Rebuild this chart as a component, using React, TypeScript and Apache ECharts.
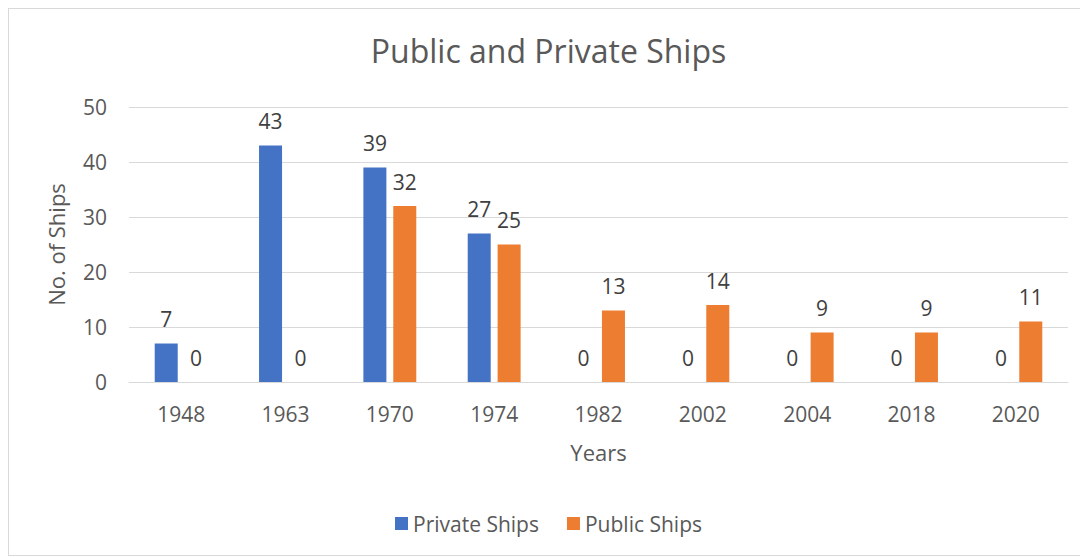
import React, { useEffect, useRef } from "react";
import * as echarts from "echarts";

const years = ["1948", "1963", "1970", "1974", "1982", "2002", "2004", "2018", "2020"];
const privateShips = [7, 43, 39, 27, 0, 0, 0, 0, 0];
const publicShips = [0, 0, 32, 25, 13, 14, 9, 9, 11];

const FONT = "'Open Sans', 'Noto Sans', sans-serif";

export default function App() {
  const ref = useRef<HTMLDivElement>(null);
  useEffect(() => {
    if (!ref.current) return;
    const chart = echarts.init(ref.current, undefined, { renderer: "svg" });
    const label = {
      show: true,
      position: "top",
      distance: 14,
      color: "#404040",
      fontSize: 21,
      fontFamily: FONT,
    };
    chart.setOption({
      animation: false,
      backgroundColor: "#ffffff",
      textStyle: { fontFamily: FONT },
      title: {
        text: "Public and Private Ships",
        left: "center",
        top: 20,
        textStyle: { color: "#595959", fontSize: 32, fontWeight: "normal", fontFamily: FONT },
      },
      legend: {
        bottom: 16,
        left: "center",
        itemWidth: 13,
        itemHeight: 13,
        itemGap: 28,
        icon: "rect",
        textStyle: { color: "#595959", fontSize: 21, fontFamily: FONT },
        data: ["Private Ships", "Public Ships"],
      },
      grid: { left: 120, right: 20, top: 98, bottom: 173, containLabel: false },
      xAxis: {
        type: "category",
        data: years,
        name: "Years",
        nameLocation: "middle",
        nameGap: 59,
        nameTextStyle: { color: "#595959", fontSize: 22, fontFamily: FONT },
        axisLine: { show: true, lineStyle: { color: "#d9d9d9", width: 1 } },
        axisTick: { show: false },
        axisLabel: { color: "#595959", fontSize: 21, margin: 21, fontFamily: FONT },
      },
      yAxis: {
        type: "value",
        min: 0,
        max: 50,
        interval: 10,
        name: "No. of Ships",
        nameLocation: "middle",
        nameGap: 62,
        nameTextStyle: { color: "#595959", fontSize: 22, fontFamily: FONT },
        axisLine: { show: false },
        axisTick: { show: false },
        splitLine: { lineStyle: { color: "#d9d9d9", width: 1 } },
        axisLabel: { color: "#595959", fontSize: 21, margin: 22, fontFamily: FONT },
      },
      series: [
        {
          name: "Private Ships",
          type: "bar",
          data: privateShips,
          barWidth: 23,
          barGap: "30%",
          itemStyle: { color: "#4472c4" },
          label,
        },
        {
          name: "Public Ships",
          type: "bar",
          data: publicShips,
          barWidth: 23,
          barGap: "30%",
          itemStyle: { color: "#ed7d31" },
          label,
        },
      ],
    });
    return () => chart.dispose();
  }, []);
  return (
    <div
      ref={ref}
      style={{
        width: 1080,
        height: 548,
        borderLeft: "1px solid #d9d9d9",
        borderTop: "1px solid #d9d9d9",
        borderBottom: "1px solid #d9d9d9",
        boxSizing: "border-box",
      }}
    />
  );
}
